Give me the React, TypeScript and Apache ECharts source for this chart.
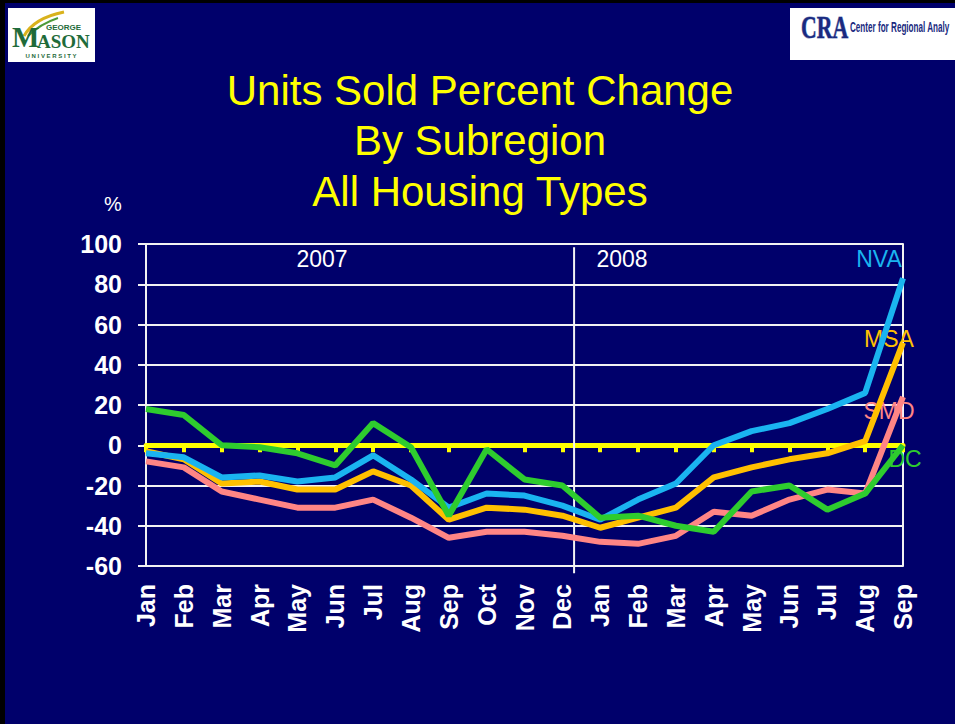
import React, { useEffect, useRef } from "react";
import * as echarts from "echarts";

const categories = ["Jan", "Feb", "Mar", "Apr", "May", "Jun", "Jul", "Aug", "Sep", "Oct", "Nov", "Dec", "Jan", "Feb", "Mar", "Apr", "May", "Jun", "Jul", "Aug", "Sep"];
const nva = [-4, -6, -16, -15, -18, -16, -5, -17, -31, -24, -25, -30, -37, -27, -19, 0, 7, 11, 18, 26, 83];
const msa = [-3, -7, -19, -18, -22, -22, -13, -20, -37, -31, -32, -35, -41, -36, -31, -16, -11, -7, -4, 2, 51];
const smd = [-8, -11, -23, -27, -31, -31, -27, -36, -46, -43, -43, -45, -48, -49, -45, -33, -35, -27, -22, -24, 24];
const dc = [18, 15, 0, -1, -4, -10, 11, -1, -35, -2, -17, -20, -36, -35, -40, -43, -23, -20, -32, -24, 0];
const yearDivider = 11.31;
const titleLines = ["Units Sold Percent Change", "By Subregion", "All Housing Types"];

const FONT = "'Liberation Sans', Arial, sans-serif";
const SERIF = "'Liberation Serif', serif";
const C_NVA = "#1AB4F0";
const C_MSA = "#FFC000";
const C_SMD = "#FF8585";
const C_DC = "#2ECC2E";

function toPairs(arr: number[]) {
  return arr.map((v, i) => [i, v]);
}

export default function App() {
  const ref = useRef<HTMLDivElement>(null);
  useEffect(() => {
    if (!ref.current) return;
    const chart = echarts.init(ref.current, undefined, { renderer: "svg" });
    const GREEN = "#1F6B3A";
    const NAVYLOGO = "#1A2A80";
    const baseGraphic: any[] = [
      { type: "rect", shape: { x: 0, y: 0, width: 955, height: 3 }, style: { fill: "#000" } },
      { type: "rect", shape: { x: 0, y: 0, width: 5, height: 724 }, style: { fill: "#000" } },
      // GMU logo
      { type: "rect", shape: { x: 8, y: 8, width: 87, height: 54 }, style: { fill: "#fff" } },
      { type: "bezierCurve", shape: { x1: 24, y1: 36, x2: 64, y2: 12, cpx1: 34, cpy1: 18 }, style: { stroke: "#D9B21C", lineWidth: 3, fill: null } },
      { type: "bezierCurve", shape: { x1: 28, y1: 36, x2: 58, y2: 18, cpx1: 40, cpy1: 24 }, style: { stroke: "#4C9A3A", lineWidth: 2, fill: null } },
      { type: "text", x: 46, y: 23, style: { text: "GEORGE", font: "bold 8px " + FONT, fill: GREEN, textVerticalAlign: "top" } },
      { type: "text", x: 12, y: 22, style: { text: "M", font: "bold 29px " + SERIF, fill: GREEN, textVerticalAlign: "top" } },
      { type: "text", x: 37, y: 32, style: { text: "ASON", font: "bold 19px " + SERIF, fill: GREEN, textVerticalAlign: "top" } },
      { type: "text", x: 51, y: 53, style: { text: "U N I V E R S I T Y", font: "bold 6px " + FONT, fill: GREEN, textAlign: "center", textVerticalAlign: "top" } },
      // CRA logo
      { type: "rect", shape: { x: 790, y: 8, width: 165, height: 52 }, style: { fill: "#fff" } },
      { type: "text", x: 801, y: 11, scaleX: 0.68, style: { text: "CRA", font: "bold 32px " + SERIF, fill: NAVYLOGO, stroke: "#8090C0", lineWidth: 1, textVerticalAlign: "top" } },
      { type: "text", x: 850, y: 27, scaleX: 0.58, style: { text: "Center for Regional Analy", font: "bold 14px " + FONT, fill: NAVYLOGO, textVerticalAlign: "middle" } },
      // titles
      ...titleLines.map((t, i) => ({
        type: "text", x: 480, y: 90 + i * 50.5,
        style: { text: t, font: "42px " + FONT, fill: "#FFFF00", textAlign: "center", textVerticalAlign: "middle" },
      })),
      { type: "text", x: 113, y: 204, style: { text: "%", font: "20px " + FONT, fill: "#fff", textAlign: "center", textVerticalAlign: "middle" } },
      { type: "text", x: 322, y: 259, z: 1, style: { text: "2007", font: "23px " + FONT, fill: "#fff", textAlign: "center", textVerticalAlign: "middle" } },
      { type: "text", x: 622, y: 259, z: 1, style: { text: "2008", font: "23px " + FONT, fill: "#fff", textAlign: "center", textVerticalAlign: "middle" } },
      { type: "text", x: 879, y: 259, z: 1, style: { text: "NVA", font: "23px " + FONT, fill: C_NVA, textAlign: "center", textVerticalAlign: "middle" } },
      { type: "text", x: 889, y: 339, z: 1, style: { text: "MSA", font: "23px " + FONT, fill: C_MSA, textAlign: "center", textVerticalAlign: "middle" } },
      { type: "text", x: 889, y: 411, z: 1, style: { text: "SMD", font: "23px " + FONT, fill: C_SMD, textAlign: "center", textVerticalAlign: "middle" } },
      { type: "text", x: 905, y: 459, z: 1, style: { text: "DC", font: "23px " + FONT, fill: C_DC, textAlign: "center", textVerticalAlign: "middle" } },
    ];

    const lineSeries = (name: string, data: number[], color: string) => ({
      name,
      type: "line",
      xAxisIndex: 0,
      yAxisIndex: 0,
      data: toPairs(data),
      symbol: "none",
      lineStyle: { color, width: 6 },
      itemStyle: { color },
      z: 3,
    });

    const option: any = {
      animation: false,
      backgroundColor: "#00006B",
      textStyle: { fontFamily: FONT },
      grid: { left: 146, right: 52, top: 244, bottom: 158, containLabel: false },
      xAxis: [
        {
          type: "value",
          min: 0,
          max: 20,
          interval: 1,
          position: "bottom",
          axisLine: { show: false, onZero: false },
          axisTick: { show: false },
          splitLine: { show: false },
          axisLabel: {
            rotate: 90,
            margin: 18,
            color: "#fff",
            fontWeight: "bold",
            fontSize: 25,
            fontFamily: FONT,
            showMinLabel: true,
            showMaxLabel: true,
            formatter: (v: number) => categories[Math.round(v)] ?? "",
          },
        },
        {
          type: "value",
          min: 0,
          max: 20,
          interval: 1,
          position: "bottom",
          axisLine: { show: true, onZero: true, lineStyle: { color: "#FFFF00", width: 5 } },
          axisTick: { show: true, inside: false, length: 7, lineStyle: { color: "#FFFF00", width: 4 } },
          axisLabel: { show: false },
          splitLine: { show: false },
        },
      ],
      yAxis: [
        {
          type: "value",
          min: -60,
          max: 100,
          interval: 20,
          axisLine: { show: true, lineStyle: { color: "#F2F2F2", width: 2 } },
          axisTick: { show: true, inside: false, length: 8, lineStyle: { color: "#F2F2F2", width: 2 } },
          splitLine: { show: true, lineStyle: { color: "#F2F2F2", width: 2 } },
          axisLabel: { color: "#fff", fontWeight: "bold", fontSize: 25, fontFamily: FONT, margin: 24 },
        },
        {
          type: "value",
          min: -60,
          max: 100,
          interval: 20,
          position: "right",
          axisLine: { show: true, onZero: false, lineStyle: { color: "#F2F2F2", width: 2 } },
          axisTick: { show: false },
          splitLine: { show: false },
          axisLabel: { show: false },
        },
      ],
      series: [
        lineSeries("SMD", smd, C_SMD),
        lineSeries("MSA", msa, C_MSA),
        lineSeries("NVA", nva, C_NVA),
        lineSeries("DC", dc, C_DC),
      ],
      graphic: baseGraphic,
    };
    chart.setOption(option);

    const dx = chart.convertToPixel({ xAxisIndex: 0 }, yearDivider) as number;
    const dTop = chart.convertToPixel({ yAxisIndex: 0 }, 98.4) as number;
    const dBot = chart.convertToPixel({ yAxisIndex: 0 }, -63.6) as number;
    chart.setOption({
      graphic: [
        ...baseGraphic,
        { type: "line", z: 1, shape: { x1: dx, y1: dTop, x2: dx, y2: dBot }, style: { stroke: "#F2F2F2", lineWidth: 2 } },
      ],
    });

    return () => chart.dispose();
  }, []);

  return (
    <div
      ref={ref}
      style={{ position: "fixed", left: 0, top: 0, width: 955, height: 724 }}
    />
  );
}
